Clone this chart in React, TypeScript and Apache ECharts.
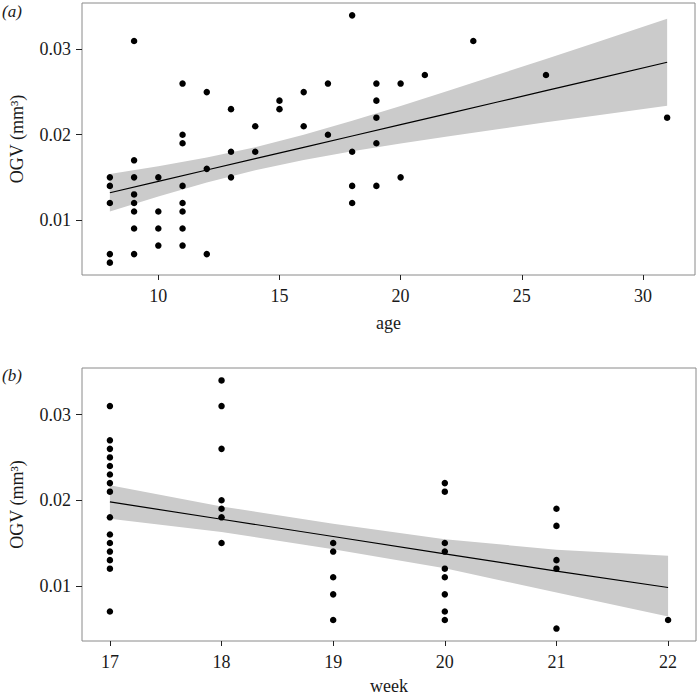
import React, { useEffect, useRef } from "react";
import * as echarts from "echarts";

// Panel (a): OGV vs age
const ageA = [
  8, 8, 8, 8, 8,
  9, 9, 9, 9, 9, 9, 9, 9,
  10, 10, 10, 10,
  11, 11, 11, 11, 11, 11, 11, 11,
  12, 12, 12,
  13, 13, 13,
  14, 14,
  15, 15,
  16, 16,
  17, 17,
  18, 18, 18, 18,
  19, 19, 19, 19, 19,
  20, 20,
  21, 23, 26, 31,
];
const ogvA = [
  0.015, 0.014, 0.012, 0.006, 0.005,
  0.031, 0.017, 0.015, 0.013, 0.012, 0.011, 0.009, 0.006,
  0.015, 0.011, 0.009, 0.007,
  0.026, 0.020, 0.019, 0.014, 0.012, 0.011, 0.009, 0.007,
  0.025, 0.016, 0.006,
  0.023, 0.018, 0.015,
  0.021, 0.018,
  0.024, 0.023,
  0.025, 0.021,
  0.026, 0.020,
  0.034, 0.018, 0.014, 0.012,
  0.026, 0.024, 0.022, 0.019, 0.014,
  0.026, 0.015,
  0.027, 0.031, 0.027, 0.022,
];
// fitted line and confidence band
const fitAgeA = [8, 10, 12, 14, 16, 18, 20, 22, 24, 26, 28, 31];
const fitA = [0.0132, 0.01453, 0.01586, 0.01719, 0.01852, 0.01985, 0.02118, 0.02251, 0.02384, 0.02517, 0.0265, 0.0285];
const upperA = [0.0154, 0.01631, 0.01733, 0.01854, 0.01999, 0.02163, 0.02338, 0.02519, 0.02703, 0.02889, 0.03077, 0.0336];
const lowerA = [0.011, 0.01275, 0.01439, 0.01584, 0.01705, 0.01807, 0.01898, 0.01983, 0.02065, 0.02145, 0.02223, 0.0234];

// Panel (b): OGV vs week
const weekB = [
  17, 17, 17, 17, 17, 17, 17, 17, 17, 17, 17, 17, 17, 17, 17,
  18, 18, 18, 18, 18, 18, 18,
  19, 19, 19, 19, 19,
  20, 20, 20, 20, 20, 20, 20, 20, 20,
  21, 21, 21, 21, 21,
  22,
];
const ogvB = [
  0.031, 0.027, 0.026, 0.025, 0.024, 0.023, 0.022, 0.021, 0.018, 0.016, 0.015, 0.014, 0.013, 0.012, 0.007,
  0.034, 0.031, 0.026, 0.020, 0.019, 0.018, 0.015,
  0.015, 0.014, 0.011, 0.009, 0.006,
  0.022, 0.021, 0.015, 0.014, 0.012, 0.011, 0.009, 0.007, 0.006,
  0.019, 0.017, 0.013, 0.012, 0.005,
  0.006,
];
const fitWeekB = [17, 18, 19, 20, 21, 22];
const fitB = [0.0198, 0.01778, 0.01576, 0.01374, 0.01172, 0.0098];
const upperB = [0.02176, 0.01928, 0.01724, 0.01544, 0.01422, 0.0135];
const lowerB = [0.01784, 0.01628, 0.01428, 0.01204, 0.00922, 0.0064];

const ageTicks = [10, 15, 20, 25, 30];
const weekTicks = [17, 18, 19, 20, 21, 22];
const ogvTicks = [0.01, 0.02, 0.03];

const FONT = "'Liberation Serif', 'Times New Roman', Times, serif";
const TXT = "#1a1a1a";

function bandSeries(xs: number[], lo: number[], hi: number[], axisIndex: number) {
  return {
    type: "custom",
    xAxisIndex: axisIndex,
    yAxisIndex: axisIndex,
    z: 1,
    silent: true,
    data: xs.map((x, i) => [x, lo[i], hi[i]]),
    renderItem: (params: any, api: any) => {
      if (params.dataIndex !== 0) return { type: "group", children: [] };
      const pts: number[][] = [];
      for (let i = 0; i < xs.length; i++) pts.push(api.coord([xs[i], hi[i]]));
      for (let i = xs.length - 1; i >= 0; i--) pts.push(api.coord([xs[i], lo[i]]));
      return {
        type: "polygon",
        shape: { points: pts },
        style: { fill: "#cbcbcb", stroke: "none" },
      };
    },
  };
}

function xAxis(min: number, max: number, ticks: number[], name: string, gridIndex: number, gap: number) {
  return {
    type: "value",
    gridIndex,
    min,
    max,
    name,
    nameLocation: "middle",
    nameGap: gap,
    nameTextStyle: { fontFamily: FONT, fontSize: 18, color: TXT },
    axisLine: { show: false },
    splitLine: { show: false },
    axisTick: { show: true, length: 5, customValues: ticks, lineStyle: { color: "#222", width: 1 } },
    axisLabel: {
      customValues: ticks,
      margin: 12,
      fontFamily: FONT,
      fontSize: 18,
      color: TXT,
    },
  };
}

function yAxis(gridIndex: number) {
  return {
    type: "value",
    gridIndex,
    min: 0.00355,
    max: 0.03545,
    name: "OGV (mm³)",
    nameLocation: "middle",
    nameGap: 56,
    nameRotate: 90,
    nameTextStyle: { fontFamily: FONT, fontSize: 18, color: TXT },
    axisLine: { show: false },
    splitLine: { show: false },
    axisTick: { show: true, length: 6, customValues: ogvTicks, lineStyle: { color: "#222", width: 1 } },
    axisLabel: {
      customValues: ogvTicks,
      margin: 11,
      fontFamily: FONT,
      fontSize: 18,
      color: TXT,
      formatter: (v: number) => v.toFixed(2),
    },
  };
}

export default function App() {
  const ref = useRef<HTMLDivElement>(null);
  useEffect(() => {
    if (!ref.current) return;
    const chart = echarts.init(ref.current, undefined, { renderer: "svg" });
    chart.setOption({
      animation: false,
      backgroundColor: "#ffffff",
      grid: [
        { left: 82, top: 3, width: 613, height: 272, show: true, borderColor: "#8a8a8a", borderWidth: 1, backgroundColor: "transparent" },
        { left: 82, top: 368, width: 614, height: 273, show: true, borderColor: "#8a8a8a", borderWidth: 1, backgroundColor: "transparent" },
      ],
      xAxis: [
        xAxis(6.85, 32.15, ageTicks, "age", 0, 39),
        xAxis(16.75, 22.25, weekTicks, "week", 1, 36),
      ],
      yAxis: [yAxis(0), yAxis(1)],
      graphic: [
        { type: "text", left: 2, top: 3, style: { text: "(a)", font: `italic 17px 'Liberation Serif'`, fill: TXT } },
        { type: "text", left: 2, top: 367, style: { text: "(b)", font: `italic 17px 'Liberation Serif'`, fill: TXT } },
      ],
      series: [
        bandSeries(fitAgeA, lowerA, upperA, 0),
        {
          type: "line",
          xAxisIndex: 0,
          yAxisIndex: 0,
          z: 2,
          showSymbol: false,
          silent: true,
          data: fitAgeA.map((x, i) => [x, fitA[i]]),
          lineStyle: { color: "#000", width: 1.2 },
        },
        {
          type: "scatter",
          xAxisIndex: 0,
          yAxisIndex: 0,
          z: 3,
          symbol: "circle",
          symbolSize: 6.5,
          itemStyle: { color: "#000", opacity: 1 },
          data: ageA.map((x, i) => [x, ogvA[i]]),
        },
        bandSeries(fitWeekB, lowerB, upperB, 1),
        {
          type: "line",
          xAxisIndex: 1,
          yAxisIndex: 1,
          z: 2,
          showSymbol: false,
          silent: true,
          data: fitWeekB.map((x, i) => [x, fitB[i]]),
          lineStyle: { color: "#000", width: 1.2 },
        },
        {
          type: "scatter",
          xAxisIndex: 1,
          yAxisIndex: 1,
          z: 3,
          symbol: "circle",
          symbolSize: 6.5,
          itemStyle: { color: "#000", opacity: 1 },
          data: weekB.map((x, i) => [x, ogvB[i]]),
        },
      ],
    });
    return () => chart.dispose();
  }, []);
  return (
    <div
      ref={ref}
      style={{ position: "fixed", left: 0, top: 0, width: 698, height: 696, background: "#fff" }}
    />
  );
}
